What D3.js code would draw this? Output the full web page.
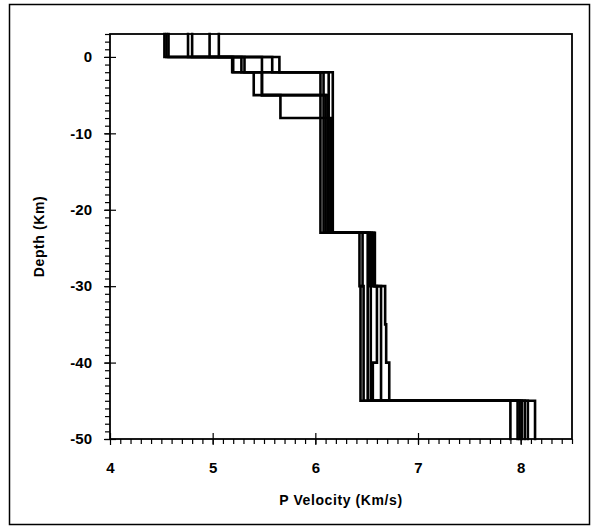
<!DOCTYPE html>
<html>
<head>
<meta charset="utf-8">
<script src="https://cdn.jsdelivr.net/npm/d3@7.9.0/dist/d3.min.js"></script>
<style>
  body { margin: 0; background: #fff; }
  svg text { font-family: "Liberation Sans", Arial, sans-serif; font-weight: bold; fill: #000; }
</style>
</head>
<body>
<svg id="chart" width="595" height="530"></svg>
<script>
// velocity models: [top depth (km), P velocity (km/s)] for each layer, bottom of last layer is -50
const model1 = [[3, 4.53], [0, 5.19], [-2, 5.40], [-5, 6.10], [-23, 6.46], [-30, 6.44], [-45, 7.90]];
const model2 = [[3, 4.55], [0, 5.28], [-2, 6.05], [-23, 6.43], [-30, 6.47], [-45, 7.99]];
const model3 = [[3, 4.57], [0, 5.31], [-2, 6.08], [-23, 6.51], [-30, 6.51], [-45, 8.01]];
const model4 = [[3, 4.76], [0, 5.48], [-5, 5.66], [-8, 6.15], [-23, 6.53], [-30, 6.54], [-45, 8.04]];
const model5 = [[3, 4.80], [0, 5.58], [-2, 6.13], [-23, 6.55], [-30, 6.64], [-45, 7.97]];
const model6 = [[3, 4.97], [0, 5.65], [-2, 6.17], [-23, 6.58], [-30, 6.68], [-35, 6.69], [-40, 6.72], [-45, 8.14]];
const model7 = [[3, 5.06], [0, 5.20], [-2, 5.48], [-5, 6.12], [-23, 6.57], [-30, 6.60], [-40, 6.56], [-45, 8.07]];
const models = [model1, model2, model3, model4, model5, model6, model7];

const xTicks = [4, 5, 6, 7, 8];
const yTicks = [0, -10, -20, -30, -40, -50];
const xDomain = [4, 8.5];
const yDomain = [-50, 3];

const svg = d3.select('#chart');
const mLeft = 110, mRight = 572, mTop = 34, mBottom = 439;

const x = d3.scaleLinear().domain(xDomain).range([mLeft, mRight]);
const y = d3.scaleLinear().domain(yDomain).range([mBottom, mTop]);

// outer frame
svg.append('rect')
  .attr('x', 9.5).attr('y', 4.5)
  .attr('width', 580).attr('height', 520)
  .attr('fill', 'none').attr('stroke', '#000').attr('stroke-width', 1.5);

// step profiles
function steps(model) {
  const pts = [];
  model.forEach((layer, i) => {
    const bot = i < model.length - 1 ? model[i + 1][0] : yDomain[0];
    pts.push([layer[1], layer[0]]);
    pts.push([layer[1], bot]);
  });
  return pts;
}
const line = d3.line().x(d => x(d[0])).y(d => y(d[1]));

svg.append('g').selectAll('path')
  .data(models)
  .join('path')
  .attr('d', d => line(steps(d)))
  .attr('fill', 'none')
  .attr('stroke', '#000')
  .attr('stroke-width', 2.6)
  .attr('stroke-linejoin', 'miter')
  .attr('stroke-linecap', 'square');

// minor ticks
const minorX = d3.range(41, 86).map(v => v / 10);
const minorY = d3.range(-50, 4);
svg.append('g')
  .attr('transform', `translate(0,${mBottom})`)
  .call(d3.axisBottom(x).tickValues(minorX).tickSize(5).tickFormat(''))
  .call(g => g.select('.domain').remove())
  .selectAll('line').attr('stroke-width', 1.2);
svg.append('g')
  .attr('transform', `translate(${mLeft},0)`)
  .call(d3.axisLeft(y).tickValues(minorY).tickSize(5).tickFormat(''))
  .call(g => g.select('.domain').remove())
  .selectAll('line').attr('stroke-width', 1.2);

// major ticks and labels
const xAxis = svg.append('g')
  .attr('transform', `translate(0,${mBottom})`)
  .call(d3.axisBottom(x).tickValues(xTicks).tickSize(6).tickPadding(17).tickFormat(d => String(d)));
xAxis.select('.domain').remove();
xAxis.selectAll('.tick line').attr('y1', -6).attr('stroke-width', 1.2);
xAxis.selectAll('text').attr('font-size', 15);

const yAxis = svg.append('g')
  .attr('transform', `translate(${mLeft},0)`)
  .call(d3.axisLeft(y).tickValues(yTicks).tickSize(6).tickPadding(12).tickFormat(d => String(d)));
yAxis.select('.domain').remove();
yAxis.selectAll('.tick line').attr('x1', 6).attr('stroke-width', 1.2);
yAxis.selectAll('text').attr('font-size', 15);

// plot box
svg.append('rect')
  .attr('x', mLeft).attr('y', mTop)
  .attr('width', mRight - mLeft).attr('height', mBottom - mTop)
  .attr('fill', 'none').attr('stroke', '#000').attr('stroke-width', 1.8);

// axis titles
svg.append('text')
  .attr('x', (mLeft + mRight) / 2).attr('y', 505)
  .attr('text-anchor', 'middle').attr('font-size', 14)
  .attr('letter-spacing', 0.6)
  .text('P Velocity (Km/s)');

svg.append('text')
  .attr('transform', `translate(44,${(mTop + mBottom) / 2}) rotate(-90)`)
  .attr('text-anchor', 'middle').attr('font-size', 14)
  .attr('letter-spacing', 0.6)
  .text('Depth (Km)');
</script>
</body>
</html>
